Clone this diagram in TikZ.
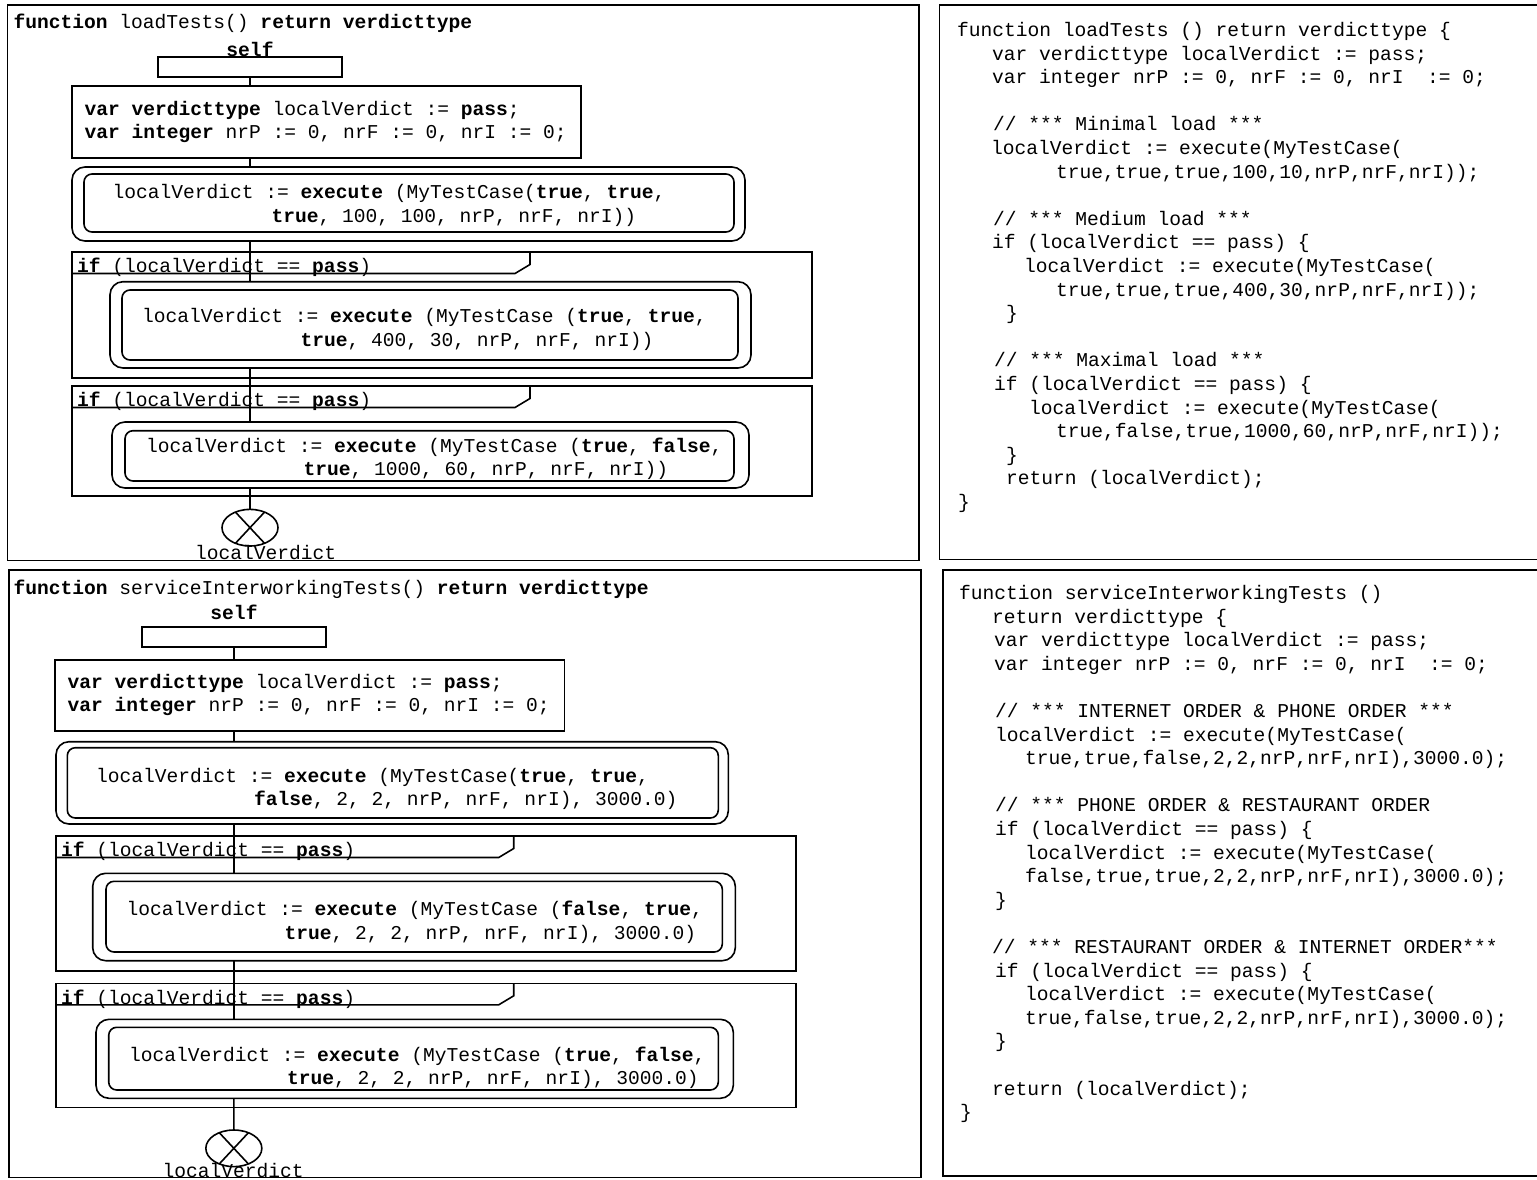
\documentclass[tikz,border=0pt]{standalone}
\usepackage{fontspec}
\newfontfamily\cf{Liberation Mono}
\usetikzlibrary{shapes.geometric,fit}
\newcommand\kw[1]{\textbf{#1}}
\newcommand\codeln[4]{\node[code] (#1) at (#2,#3) {#4};}
\newcommand\ifhdr[1]{\draw[conn] ([yshift=-21.5pt]#1.north west) -- ([xshift=443pt,yshift=-21.5pt]#1.north west) -- ([xshift=458pt,yshift=-12.5pt]#1.north west) -- ([xshift=458pt]#1.north west);}
\begin{document}
\begin{tikzpicture}[x=1pt,y=-1pt,
  conn/.style={line width=1.6pt},
  box/.style={draw, line width=1.6pt, inner sep=0pt, outer sep=0pt, rectangle},
  rbo/.style={box, rounded corners=13pt},
  rbi/.style={box, rounded corners=8pt},
  code/.style={font=\cf\fontsize{19.6}{23.6}\selectfont, inner sep=0pt, outer sep=0pt, anchor=base west},
  ctr/.style={code, anchor=base},
  term/.style={draw, ellipse, line width=1.6pt, inner sep=0pt, outer sep=0pt, minimum width=56pt, minimum height=36.6pt}]
\useasboundingbox (0,0) rectangle (1537,1179);

% ================= Diagram 1 =================
\node[box, fit={(7.5,4.7) (919,560.5)}] (frame1) {};
\node[code] (t1) at (13.5,28.3) {\kw{function} loadTests() \kw{return verdicttype}};
\node[ctr] (s1) at (250,56) {\kw{self}};
\node[box, fit={(158,57) (342,77)}] (sb1) {};
\node[box, fit={(72,86) (581,158)}] (var1) {};
\node[code] (v1a) at (84.5,115) {\kw{var verdicttype} localVerdict := \kw{pass};};
\node[code] (v1b) at (84.5,138) {\kw{var integer} nrP := 0, nrF := 0, nrI := 0;};
\node[rbo, fit={(72,167) (745,241)}] (ex1o) {};
\node[rbi, fit={(84,174) (734,232)}] (ex1i) {};
\node[code] (e1a) at (112.5,198) {localVerdict := \kw{execute} (MyTestCase(\kw{true}, \kw{true},};
\node[code] (e1b) at (271.5,222.5) {\kw{true}, 100, 100, nrP, nrF, nrI))};
\node[box, fit={(72,252) (812,378)}] (if1) {};
\ifhdr{if1}
\node[code] (h1) at (77,272.5) {\kw{if} (localVerdict == \kw{pass})};
\node[rbo, fit={(110,281.7) (751,368)}] (ex2o) {};
\node[rbi, fit={(122,290) (738,360)}] (ex2i) {};
\node[code] (e2a) at (142,322.5) {localVerdict := \kw{execute} (MyTestCase (\kw{true}, \kw{true},};
\node[code] (e2b) at (300.5,346) {\kw{true}, 400, 30, nrP, nrF, nrI))};
\node[box, fit={(72,386) (812,496)}] (if2) {};
\ifhdr{if2}
\node[code] (h2) at (77,406.5) {\kw{if} (localVerdict == \kw{pass})};
\node[rbo, fit={(112,422) (749,488)}] (ex3o) {};
\node[rbi, fit={(125,430.7) (734,481)}] (ex3i) {};
\node[code] (e3a) at (146,452) {localVerdict := \kw{execute} (MyTestCase (\kw{true}, \kw{false},};
\node[code] (e3b) at (303.5,475) {\kw{true}, 1000, 60, nrP, nrF, nrI))};
\node[term] (term1) at (250,527.7) {};
\draw[conn] (term1.133) -- (term1.-47);
\draw[conn] (term1.47) -- (term1.-133);
\node[code] (lv1) at (195,559) {localVerdict};
\draw[conn] (sb1.south) -- (sb1.south |- var1.north);
\draw[conn] (sb1.south |- var1.south) -- (sb1.south |- ex1o.north);
\draw[conn] (sb1.south |- ex1o.south) -- (sb1.south |- ex2o.north);
\draw[conn] (sb1.south |- ex2o.south) -- (sb1.south |- ex3o.north);
\draw[conn] (sb1.south |- ex3o.south) -- (term1.north);

% ================= Diagram 2 =================
\node[box, fit={(9,569.7) (920.7,1177.3)}] (frame2) {};
\node[code] (t2) at (13.5,594.5) {\kw{function} serviceInterworkingTests() \kw{return verdicttype}};
\node[ctr] (s2) at (234,619) {\kw{self}};
\node[box, fit={(141.7,627) (326,646.7)}] (sb2) {};
\node[box, fit={(55,660) (564.3,731)}] (var2) {};
\node[code] (v2a) at (67.5,688) {\kw{var verdicttype} localVerdict := \kw{pass};};
\node[code] (v2b) at (67.5,711.5) {\kw{var integer} nrP := 0, nrF := 0, nrI := 0;};
\node[rbo, fit={(56,741.7) (728.3,824)}] (ex4o) {};
\node[rbi, fit={(67.3,747.7) (718.3,818)}] (ex4i) {};
\node[code] (e4a) at (96,782) {localVerdict := \kw{execute} (MyTestCase(\kw{true}, \kw{true},};
\node[code] (e4b) at (254,805.5) {\kw{false}, 2, 2, nrP, nrF, nrI), 3000.0)};
\node[box, fit={(55.7,836) (796,971)}] (if3) {};
\ifhdr{if3}
\node[code] (h3) at (61,856) {\kw{if} (localVerdict == \kw{pass})};
\node[rbo, fit={(92.7,873.3) (735.3,960.7)}] (ex5o) {};
\node[rbi, fit={(106,881.3) (722.3,952)}] (ex5i) {};
\node[code] (e5a) at (126.5,915.5) {localVerdict := \kw{execute} (MyTestCase (\kw{false}, \kw{true},};
\node[code] (e5b) at (284.5,939) {\kw{true}, 2, 2, nrP, nrF, nrI), 3000.0)};
\node[box, fit={(55.7,983.3) (796,1107.3)}] (if4) {};
\ifhdr{if4}
\node[code] (h4) at (61,1004) {\kw{if} (localVerdict == \kw{pass})};
\node[rbo, fit={(96,1019.3) (733.3,1098.3)}] (ex6o) {};
\node[rbi, fit={(108.7,1027.3) (718.3,1090)}] (ex6i) {};
\node[code] (e6a) at (129,1061) {localVerdict := \kw{execute} (MyTestCase (\kw{true}, \kw{false},};
\node[code] (e6b) at (287,1084.5) {\kw{true}, 2, 2, nrP, nrF, nrI), 3000.0)};
\node[term] (term2) at (233.85,1148.3) {};
\draw[conn] (term2.133) -- (term2.-47);
\draw[conn] (term2.47) -- (term2.-133);
\node[code] (lv2) at (162.5,1177) {localVerdict};
\draw[conn] (sb2.south) -- (sb2.south |- var2.north);
\draw[conn] (sb2.south |- var2.south) -- (sb2.south |- ex4o.north);
\draw[conn] (sb2.south |- ex4o.south) -- (sb2.south |- ex5o.north);
\draw[conn] (sb2.south |- ex5o.south) -- (sb2.south |- ex6o.north);
\draw[conn] (sb2.south |- ex6o.south) -- (term2.north);

% ================= Code panel 1 =================
\draw[conn] (1540,4.7) -- (939.3,4.7) -- (939.3,559.3) -- (1540,559.3);
\codeln{pa0}{957}{36.5}{function loadTests () return verdicttype \{}
\codeln{pa1}{992}{60.1}{var verdicttype localVerdict := pass;}
\codeln{pa2}{992}{83.7}{var integer nrP := 0, nrF := 0, nrI\ \ := 0;}
\codeln{pa4}{993}{130.9}{// *** Minimal load ***}
\codeln{pa5}{991}{154.5}{localVerdict := execute(MyTestCase(}
\codeln{pa6}{1056}{178.1}{true,true,true,100,10,nrP,nrF,nrI));}
\codeln{pa8}{993}{225.3}{// *** Medium load ***}
\codeln{pa9}{992}{248.9}{if (localVerdict == pass) \{}
\codeln{pa10}{1024}{272.5}{localVerdict := execute(MyTestCase(}
\codeln{pa11}{1056}{296.1}{true,true,true,400,30,nrP,nrF,nrI));}
\codeln{pa12}{1006}{319.7}{\}}
\codeln{pa14}{994}{366.9}{// *** Maximal load ***}
\codeln{pa15}{994}{390.5}{if (localVerdict == pass) \{}
\codeln{pa16}{1029}{414.1}{localVerdict := execute(MyTestCase(}
\codeln{pa17}{1056}{437.7}{true,false,true,1000,60,nrP,nrF,nrI));}
\codeln{pa18}{1006}{461.3}{\}}
\codeln{pa19}{1006}{484.9}{return (localVerdict);}
\codeln{pa20}{958}{508.5}{\}}

% ================= Code panel 2 =================
\draw[conn] (1540,569.7) -- (942.8,569.7) -- (942.8,1176) -- (1540,1176);
\codeln{pb0}{959}{599.5}{function serviceInterworkingTests ()}
\codeln{pb1}{992}{623.1}{return verdicttype \{}
\codeln{pb2}{994}{646.7}{var verdicttype localVerdict := pass;}
\codeln{pb3}{994}{670.3}{var integer nrP := 0, nrF := 0, nrI\ \ := 0;}
\codeln{pb5}{995}{717.5}{// *** INTERNET ORDER \& PHONE ORDER ***}
\codeln{pb6}{995}{741.1}{localVerdict := execute(MyTestCase(}
\codeln{pb7}{1025}{764.7}{true,true,false,2,2,nrP,nrF,nrI),3000.0);}
\codeln{pb9}{995}{811.9}{// *** PHONE ORDER \& RESTAURANT ORDER}
\codeln{pb10}{995}{835.5}{if (localVerdict == pass) \{}
\codeln{pb11}{1025}{859.1}{localVerdict := execute(MyTestCase(}
\codeln{pb12}{1025}{882.7}{false,true,true,2,2,nrP,nrF,nrI),3000.0);}
\codeln{pb13}{995}{906.3}{\}}
\codeln{pb15}{992}{953.5}{// *** RESTAURANT ORDER \& INTERNET ORDER***}
\codeln{pb16}{995}{977.1}{if (localVerdict == pass) \{}
\codeln{pb17}{1025}{1000.7}{localVerdict := execute(MyTestCase(}
\codeln{pb18}{1025}{1024.3}{true,false,true,2,2,nrP,nrF,nrI),3000.0);}
\codeln{pb19}{995}{1047.9}{\}}
\codeln{pb21}{992}{1095.1}{return (localVerdict);}
\codeln{pb22}{960}{1118.7}{\}}
\end{tikzpicture}
\end{document}
